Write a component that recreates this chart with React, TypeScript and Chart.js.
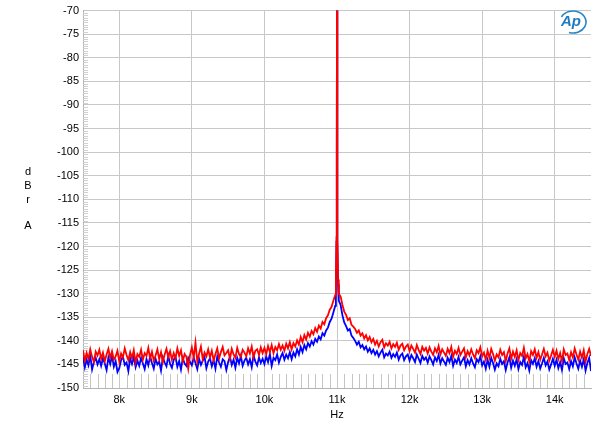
import React, { useEffect, useRef } from "react";
import { Chart, registerables } from "chart.js";

Chart.register(...registerables);

const freqs: number[] = [
  7500, 7525, 7550, 7575, 7600, 7625, 7650, 7675, 7700, 7725,
  7750, 7775, 7800, 7825, 7850, 7875, 7900, 7925, 7950, 7975,
  8000, 8025, 8050, 8075, 8100, 8125, 8150, 8175, 8200, 8225,
  8250, 8275, 8300, 8325, 8350, 8375, 8400, 8425, 8450, 8475,
  8500, 8525, 8550, 8575, 8600, 8625, 8650, 8675, 8700, 8725,
  8750, 8775, 8800, 8825, 8850, 8875, 8900, 8925, 8950, 8975,
  9000, 9025, 9050, 9075, 9100, 9125, 9150, 9175, 9200, 9225,
  9250, 9275, 9300, 9325, 9350, 9375, 9400, 9425, 9450, 9475,
  9500, 9525, 9550, 9575, 9600, 9625, 9650, 9675, 9700, 9725,
  9750, 9775, 9800, 9825, 9850, 9875, 9900, 9925, 9950, 9975,
  10000, 10025, 10050, 10075, 10100, 10125, 10150, 10175, 10200, 10225,
  10250, 10275, 10300, 10325, 10350, 10375, 10400, 10425, 10450, 10475,
  10500, 10525, 10550, 10575, 10600, 10625, 10650, 10675, 10700, 10725,
  10750, 10775, 10800, 10825, 10850, 10875, 10900, 10925, 10950, 10975,
  10985, 10993, 10997, 11000, 11003, 11007, 11015,
  11025, 11050, 11075, 11100, 11125, 11150, 11175, 11200, 11225,
  11250, 11275, 11300, 11325, 11350, 11375, 11400, 11425, 11450, 11475,
  11500, 11525, 11550, 11575, 11600, 11625, 11650, 11675, 11700, 11725,
  11750, 11775, 11800, 11825, 11850, 11875, 11900, 11925, 11950, 11975,
  12000, 12025, 12050, 12075, 12100, 12125, 12150, 12175, 12200, 12225,
  12250, 12275, 12300, 12325, 12350, 12375, 12400, 12425, 12450, 12475,
  12500, 12525, 12550, 12575, 12600, 12625, 12650, 12675, 12700, 12725,
  12750, 12775, 12800, 12825, 12850, 12875, 12900, 12925, 12950, 12975,
  13000, 13025, 13050, 13075, 13100, 13125, 13150, 13175, 13200, 13225,
  13250, 13275, 13300, 13325, 13350, 13375, 13400, 13425, 13450, 13475,
  13500, 13525, 13550, 13575, 13600, 13625, 13650, 13675, 13700, 13725,
  13750, 13775, 13800, 13825, 13850, 13875, 13900, 13925, 13950, 13975,
  14000, 14025, 14050, 14075, 14100, 14125, 14150, 14175, 14200, 14225,
  14250, 14275, 14300, 14325, 14350, 14375, 14400, 14425, 14450, 14475,
  14500,
];

const redDb: number[] = [
  -142.0, -144.2, -142.6, -143.9, -141.8, -143.4, -144.5, -142.3, -143.1, -141.9,
  -143.8, -142.5, -144.3, -142.9, -141.7, -143.6, -142.2, -144.0, -143.3, -142.1,
  -144.4, -142.7, -143.5, -141.6, -143.0, -144.1, -142.4, -143.7, -142.0, -144.6,
  -142.8, -143.4, -141.9, -144.0, -142.6, -143.2, -141.5, -143.8, -142.3, -144.2,
  -143.1, -141.8, -143.9, -142.4, -144.5, -142.9, -141.7, -143.5, -142.2, -144.0,
  -142.6, -143.7, -141.6, -143.2, -142.0, -144.3, -142.8, -143.4, -145.9, -143.0,
  -141.4, -143.6, -140.4, -144.4, -142.7, -141.2, -143.9, -142.5, -143.3, -141.8,
  -143.5, -142.1, -144.2, -142.8, -141.6, -143.7, -142.4, -141.3, -143.1, -142.6,
  -142.0, -143.8, -141.7, -142.9, -143.6, -141.5, -142.8, -143.4, -141.9, -142.5,
  -143.3, -141.6, -142.7, -141.2, -143.5, -142.1, -141.8, -143.0, -141.4, -142.6,
  -141.5, -142.8, -141.1, -142.4, -140.9, -142.6, -141.3, -142.0, -140.7, -141.9,
  -141.0, -142.1, -140.6, -141.6, -140.3, -141.8, -140.5, -141.2, -139.9, -140.8,
  -139.2, -140.3, -138.8, -139.7, -138.3, -139.1, -137.9, -138.6, -137.3, -138.1,
  -136.8, -137.4, -136.0, -136.5, -135.2, -134.6, -133.4, -132.8, -131.5, -130.3,
  -127.0, -118.0, -100.0, -60.0, -100.0, -118.0, -127.0,
  -130.0, -130.6, -132.4, -133.8, -134.5, -135.6, -135.2, -136.6, -137.0,
  -137.5, -138.3, -137.8, -138.9, -138.4, -139.5, -138.8, -139.9, -139.2, -140.3,
  -139.6, -140.8, -140.0, -141.2, -140.3, -139.8, -141.4, -140.5, -141.0, -140.2,
  -141.6, -140.7, -141.3, -140.4, -141.9, -141.0, -140.6, -142.0, -141.2, -140.8,
  -142.2, -141.0, -141.7, -142.5, -140.9, -141.9, -142.8, -141.3, -142.1, -141.5,
  -142.7, -141.4, -142.3, -143.0, -141.6, -142.4, -141.1, -142.9, -141.8, -142.5,
  -143.2, -141.7, -142.6, -141.3, -143.4, -142.1, -142.8, -141.5, -143.0, -142.3,
  -141.6, -143.5, -142.2, -143.1, -141.8, -142.9, -143.7, -142.0, -142.6, -141.4,
  -143.3, -142.5, -144.0, -142.1, -143.6, -141.7, -142.8, -144.2, -142.9, -143.5,
  -141.9, -143.0, -142.4, -144.3, -142.7, -141.6, -143.8, -142.3, -143.4, -142.0,
  -144.1, -142.6, -143.2, -141.5, -143.7, -142.8, -144.4, -142.2, -143.0, -141.8,
  -143.6, -142.4, -144.0, -142.9, -141.7, -143.3, -142.5, -144.2, -143.1, -141.9,
  -143.4, -142.1, -143.9, -142.6, -144.3, -141.8, -143.0, -142.7, -144.1, -142.4,
  -143.5, -141.6, -142.9, -144.0, -142.3, -143.6, -142.0, -144.4, -142.8, -141.7,
  -143.2,
];

const blueDb: number[] = [
  -143.4, -145.6, -144.0, -145.2, -143.1, -146.1, -144.5, -143.6, -145.0, -143.9,
  -145.3, -143.7, -144.8, -146.2, -143.5, -144.9, -143.2, -145.5, -144.3, -146.6,
  -145.8, -144.1, -143.3, -145.1, -144.6, -146.4, -143.7, -144.9, -143.4, -145.6,
  -144.2, -145.3, -143.6, -144.8, -146.0, -143.9, -145.2, -143.3, -144.7, -145.9,
  -143.8, -145.0, -144.4, -146.3, -143.5, -144.6, -145.4, -143.2, -144.9, -145.7,
  -144.0, -143.4, -145.5, -144.3, -146.1, -143.7, -144.8, -145.3, -143.6, -144.5,
  -145.2, -143.5, -144.7, -146.0, -143.8, -145.1, -144.2, -143.4, -145.8, -144.4,
  -143.7, -145.4, -144.1, -145.9, -143.3, -144.6, -145.5, -143.9, -144.3, -146.2,
  -144.5, -143.4, -145.1, -144.0, -145.7, -143.6, -144.8, -143.2, -145.3, -144.2,
  -143.6, -145.0, -143.9, -145.6, -143.1, -144.4, -145.2, -143.5, -144.7, -143.8,
  -144.9, -143.3, -144.5, -142.8, -145.3, -143.6, -144.1, -142.9, -144.6, -143.4,
  -142.6, -144.0, -142.9, -143.7, -142.4, -143.9, -142.5, -143.3, -141.8, -142.9,
  -141.3, -142.4, -140.9, -141.8, -140.5, -141.2, -140.1, -140.8, -139.6, -140.2,
  -139.1, -139.7, -138.4, -138.9, -137.8, -137.2, -136.0, -135.3, -134.0, -132.6,
  -128.0, -119.0, -101.0, -60.0, -101.0, -119.0, -128.0,
  -131.5, -132.4, -134.6, -136.1, -136.9, -137.8, -137.5, -138.9, -139.4,
  -140.0, -140.8, -140.2, -141.4, -140.9, -141.8, -141.2, -142.3, -141.6, -142.6,
  -141.9, -142.9, -142.2, -143.3, -142.5, -141.9, -143.5, -142.7, -143.1, -142.3,
  -143.6, -142.8, -143.4, -142.5, -144.0, -143.1, -142.7, -144.1, -143.3, -142.9,
  -144.2, -143.0, -143.7, -144.5, -142.9, -143.8, -144.7, -143.2, -144.0, -143.5,
  -144.6, -143.3, -144.1, -145.0, -143.5, -144.3, -143.0, -144.8, -143.7, -144.4,
  -145.1, -143.6, -144.5, -143.2, -145.3, -144.0, -144.7, -143.4, -145.0, -144.2,
  -143.5, -145.4, -144.1, -145.0, -143.7, -144.8, -145.6, -143.9, -144.5, -143.3,
  -145.2, -144.4, -145.9, -144.0, -145.5, -143.6, -144.7, -146.1, -144.8, -145.4,
  -143.8, -144.9, -144.3, -146.2, -144.6, -143.5, -145.7, -144.2, -145.3, -143.9,
  -146.0, -144.5, -145.1, -143.4, -145.6, -144.7, -146.3, -144.1, -144.9, -143.7,
  -145.5, -144.3, -145.9, -144.8, -143.6, -145.2, -144.4, -146.1, -145.0, -143.8,
  -145.3, -144.0, -145.8, -144.5, -146.2, -143.7, -144.9, -144.6, -146.0, -144.3,
  -145.4, -143.5, -144.8, -145.9, -144.2, -145.5, -143.9, -146.3, -144.7, -143.6,
  -146.4,
];

const xTicks: number[] = [8000, 9000, 10000, 11000, 12000, 13000, 14000];
const xMin = 7500;
const xMax = 14500;
const yMin = -150;
const yMax = -70;
const yLabelLetters: string[] = ["d", "B", "r", "", "A"];
const xTitle = "Hz";

const FONT = "'Liberation Sans', Arial, sans-serif";

const decorPlugin = {
  id: "decor",
  beforeDatasetsDraw(chart: any) {
    const { ctx, chartArea, scales } = chart;
    const xs = scales.x;
    const ys = scales.y;
    ctx.save();
    ctx.strokeStyle = "#c4c4c4";
    ctx.lineWidth = 1;
    for (let f = xMin + 100; f < xMax; f += 100) {
      if (f % 1000 === 0) continue;
      const px = Math.round(xs.getPixelForValue(f)) + 0.5;
      ctx.beginPath();
      ctx.moveTo(px, chartArea.bottom);
      ctx.lineTo(px, chartArea.bottom - 14);
      ctx.stroke();
    }
    ctx.strokeStyle = "#d0d0d0";
    for (let v = yMin + 0.5; v < yMax; v += 0.5) {
      if (Math.abs(v % 5) < 1e-6) continue;
      const py = Math.round(ys.getPixelForValue(v)) + 0.5;
      ctx.beginPath();
      ctx.moveTo(chartArea.left, py);
      ctx.lineTo(chartArea.left + 5, py);
      ctx.stroke();
    }
    ctx.restore();
  },
  afterDraw(chart: any) {
    const { ctx } = chart;
    ctx.save();
    ctx.fillStyle = "#000";
    ctx.font = `11px ${FONT}`;
    ctx.textAlign = "center";
    ctx.textBaseline = "middle";
    const ys = [172, 186, 200, 213, 226];
    yLabelLetters.forEach((l, i) => {
      if (l) ctx.fillText(l, 28, ys[i]);
    });
    // AP logo
    ctx.strokeStyle = "#2a86c8";
    ctx.lineWidth = 1.6;
    ctx.beginPath();
    ctx.ellipse(573, 22, 13, 11, 0, -0.85 * Math.PI, 0.6 * Math.PI);
    ctx.stroke();
    ctx.fillStyle = "#1f7bc0";
    ctx.font = `italic bold 15px ${FONT}`;
    ctx.fillText("Ap", 571, 22);
    ctx.restore();
  },
};

export default function App() {
  const ref = useRef<HTMLCanvasElement | null>(null);
  useEffect(() => {
    document.body.style.margin = "0";
    if (!ref.current) return;
    const chart = new Chart(ref.current, {
      type: "line",
      data: {
        datasets: [
          {
            label: "Red",
            data: freqs.map((f, i) => ({ x: f, y: redDb[i] })),
            borderColor: "rgb(255,0,0)",
            borderWidth: 1.8,
            pointRadius: 0,
            tension: 0,
          },
          {
            label: "Blue",
            data: freqs.map((f, i) => ({ x: f, y: blueDb[i] })),
            borderColor: "rgb(0,0,255)",
            borderWidth: 1.8,
            pointRadius: 0,
            tension: 0,
          },
        ],
      },
      options: {
        animation: false,
        responsive: false,
        maintainAspectRatio: false,
        layout: { padding: { left: 0, right: 9, top: 9, bottom: 0 } },
        plugins: { legend: { display: false }, tooltip: { enabled: false } },
        scales: {
          x: {
            type: "linear",
            min: xMin,
            max: xMax,
            afterBuildTicks: (scale: any) => {
              scale.ticks = xTicks.map((v) => ({ value: v }));
            },
            afterFit: (scale: any) => {
              scale.height = 43;
            },
            grid: { color: "#c8c8c8", drawTicks: false, lineWidth: 1 },
            border: { color: "#b4b4b4", width: 1 },
            ticks: {
              color: "#000",
              font: { family: FONT, size: 11 },
              padding: 5,
              maxRotation: 0,
              callback: (v: any) => `${Number(v) / 1000}k`,
            },
            title: {
              display: true,
              text: xTitle,
              color: "#000",
              font: { family: FONT, size: 11 },
              padding: { top: 0, bottom: 9 },
            },
          },
          y: {
            type: "linear",
            min: yMin,
            max: yMax,
            afterFit: (scale: any) => {
              scale.width = 83;
            },
            grid: { color: "#c8c8c8", drawTicks: false, lineWidth: 1 },
            border: { color: "#b4b4b4", width: 1 },
            ticks: {
              stepSize: 5,
              color: "#000",
              font: { family: FONT, size: 11 },
              padding: 4,
            },
          },
        },
      },
      plugins: [decorPlugin],
    });
    return () => chart.destroy();
  }, []);
  return (
    <div style={{ position: "absolute", left: 0, top: 0, width: 600, height: 431, background: "#fff" }}>
      <canvas ref={ref} width={600} height={431} style={{ width: 600, height: 431 }} />
    </div>
  );
}
